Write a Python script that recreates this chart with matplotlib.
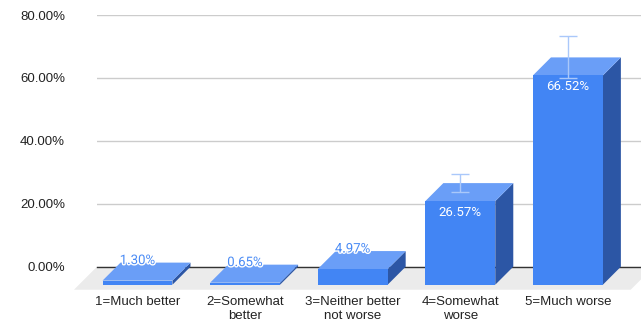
import numpy as np
import matplotlib
matplotlib.use("Agg")
from matplotlib import pyplot as plt
from matplotlib.patches import Polygon
import matplotlib.patheffects as pe

# data
categories = ["1=Much better", "2=Somewhat\nbetter", "3=Neither better\nnot worse",
              "4=Somewhat\nworse", "5=Much worse"]
values = [1.30, 0.65, 4.97, 26.57, 66.52]
errors = [0, 0, 0, 2.75, 6.65]
labels = ["1.30%", "0.65%", "4.97%", "26.57%", "66.52%"]
yticks = [0, 20, 40, 60, 80]
yticklabels = ["0.00%", "20.00%", "40.00%", "60.00%", "80.00%"]

front_col = "#4285f4"
top_col = "#6a9ef7"
side_col = "#2c56a5"
floor_col = "#ebebeb"

W, H = 641, 322
fig = plt.figure(figsize=(W / 100, H / 100), dpi=100)
ax = fig.add_axes([97 / W, 55.3 / H, (W - 97) / W, 251.7 / H])
ax.set_xlim(-0.5437, 4.512)
ax.set_ylim(0, 80)
for s in ax.spines.values():
    s.set_visible(False)

# pixel depth of the fake 3d -> data units
p0 = ax.transData.transform((0, 0))
inv = ax.transData.inverted()
ddx, ddy = inv.transform(p0 + np.array([18, 18])) - np.array([0, 0])
fdx, fdy = inv.transform(p0 + np.array([23, 23]))

x = np.arange(len(values))
width = 0.65

# floor
xl, xr = -0.5437, 4.63
floor = Polygon([(xl, 0), (xr, 0), (xr - fdx, -fdy), (xl - fdx, -fdy)],
                closed=True, facecolor=floor_col, edgecolor="none",
                clip_on=False, zorder=0)
ax.add_patch(floor)

# grid
for t in yticks[1:]:
    ax.axhline(t, color="#cccccc", lw=1, zorder=1)
ax.axhline(0, color="#333333", lw=1, zorder=1, clip_on=False)

# side + top faces
for xi, v in zip(x, values):
    x0, x1 = xi - width / 2, xi + width / 2
    side = Polygon([(x1 - ddx, -ddy), (x1, 0), (x1, v), (x1 - ddx, v - ddy)],
                   closed=True, facecolor=side_col, edgecolor="none",
                   clip_on=False, zorder=2)
    top = Polygon([(x0 - ddx, v - ddy), (x1 - ddx, v - ddy), (x1, v), (x0, v)],
                  closed=True, facecolor=top_col, edgecolor="none",
                  clip_on=False, zorder=2)
    ax.add_patch(side)
    ax.add_patch(top)

# front faces
bars = ax.bar(x - ddx, values, width, bottom=-ddy, color=front_col,
              zorder=3, clip_on=False)

# error bars
for xi, v, e in zip(x, values, errors):
    if e > 0:
        ax.errorbar(xi - ddx, v, yerr=e, color="#aac8fa", lw=1,
                    capsize=6.5, capthick=1, zorder=5)

# data labels
for xi, v, lab in zip(x, values, labels):
    if v < 10:
        ax.annotate(lab, (xi - ddx, v), xytext=(0, 1.5), textcoords="offset points",
                    ha="center", va="center", fontsize=9.5, family="Roboto",
                    color="#4a8bf5", zorder=6,
                    path_effects=[pe.withStroke(linewidth=2, foreground="white")])
    else:
        ax.annotate(lab, (xi - ddx, v - ddy), xytext=(0, -8), textcoords="offset points",
                    ha="center", va="center", fontsize=9.5, family="Roboto",
                    color="white", zorder=6)

# axes text
ax.set_yticks(yticks)
ax.set_yticklabels(yticklabels, fontsize=9.5, family="Liberation Sans", color="#222222")
ax.tick_params(axis="y", length=0, pad=23)
ax.set_xticks([])
for xi, c in zip(x, categories):
    ax.annotate(c, (xi - ddx, 0), xytext=(0, -21), textcoords="offset points",
                ha="center", va="top", fontsize=9.5, family="Liberation Sans",
                color="#222222", linespacing=1.2, annotation_clip=False)

plt.savefig("out.png", dpi=100)
